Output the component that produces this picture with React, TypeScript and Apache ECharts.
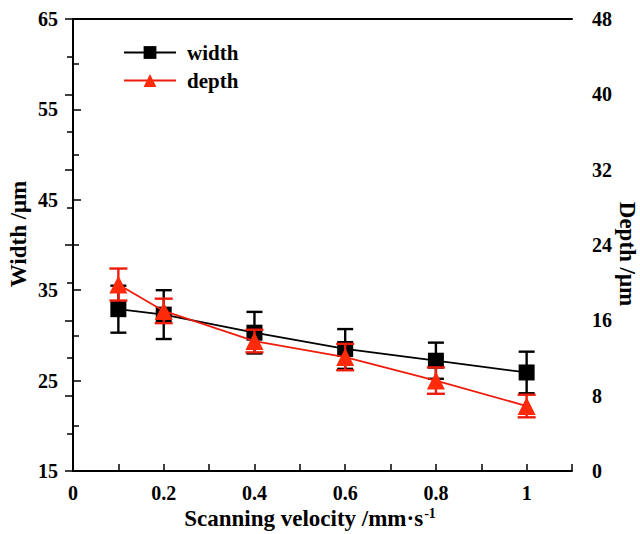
import React, { useEffect, useRef } from "react";
import * as echarts from "echarts";

const velocity = [0.1, 0.2, 0.4, 0.6, 0.8, 1.0];
const widthMean = [32.9, 32.3, 30.3, 28.5, 27.2, 25.9];
const widthErr = [2.6, 2.7, 2.3, 2.2, 2.0, 2.3];
const depthMean = [19.8, 17.0, 13.8, 12.1, 9.6, 6.9];
const depthErr = [1.7, 1.3, 1.2, 1.4, 1.4, 1.2];
const xTickLabels: Record<string, string> = { "0": "0", "0.2": "0.2", "0.4": "0.4", "0.6": "0.6", "0.8": "0.8", "1": "1" };

const FONT = "'Liberation Serif', 'Times New Roman', serif";
const RED = "#ee1c0c";
const RED_FILL = "#ff2a0a";

function errData(mean: number[], err: number[]) {
  return velocity.map((x, i) => [x, mean[i] - err[i], mean[i] + err[i]]);
}

function errRender(color: string, w: number) {
  return (params: any, api: any) => {
    const x = api.value(0);
    const lo = api.coord([x, api.value(1)]);
    const hi = api.coord([x, api.value(2)]);
    const style = { stroke: color, lineWidth: 2.4 };
    return {
      type: "group",
      children: [
        { type: "line", shape: { x1: lo[0], y1: lo[1], x2: hi[0], y2: hi[1] }, style },
        { type: "line", shape: { x1: lo[0] - w, y1: lo[1], x2: lo[0] + w, y2: lo[1] }, style },
        { type: "line", shape: { x1: hi[0] - w, y1: hi[1], x2: hi[0] + w, y2: hi[1] }, style },
      ],
    };
  };
}

export default function App() {
  const ref = useRef<HTMLDivElement>(null);
  useEffect(() => {
    const chart = echarts.init(ref.current!, null, { renderer: "svg" });
    const labelStyle = { fontFamily: FONT, fontWeight: "bold" as const, fontSize: 20, color: "#000" };
    const axisLine = { show: true, lineStyle: { color: "#000", width: 2 } };
    chart.setOption({
      animation: false,
      backgroundColor: "#fff",
      textStyle: { fontFamily: FONT },
      grid: { left: 73, right: 68, top: 19, bottom: 63, containLabel: false },
      legend: {
        orient: "vertical",
        left: 118,
        top: 37,
        itemWidth: 52,
        itemHeight: 16,
        itemGap: 7,
        textStyle: { fontFamily: FONT, fontWeight: "bold", fontSize: 21, color: "#000", padding: [0, 0, 0, 6] },
        data: ["width", "depth"],
      },
      xAxis: [
        {
          type: "value",
          min: 0,
          max: 1.1,
          interval: 0.1,
          axisLine,
          axisTick: { show: true, inside: true, length: 7, lineStyle: { color: "#000", width: 1.5 } },
          splitLine: { show: false },
          axisLabel: {
            ...labelStyle,
            margin: 12,
            formatter: (v: number) => xTickLabels[String(Math.round(v * 10) / 10)] ?? "",
          },
        },
        {
          type: "value",
          position: "top",
          min: 0,
          max: 1.1,
          axisLine,
          axisTick: { show: false },
          axisLabel: { show: false },
          splitLine: { show: false },
        },
      ],
      yAxis: [
        {
          type: "value",
          min: 15,
          max: 65,
          interval: 10,
          position: "left",
          axisLine,
          axisTick: { show: true, inside: true, length: 8, lineStyle: { color: "#000", width: 1.5 } },
          minorTick: { show: true, splitNumber: 2, length: 6, lineStyle: { color: "#000", width: 1.5 } },
          splitLine: { show: false },
          axisLabel: { ...labelStyle, margin: 15 },
        },
        {
          type: "value",
          min: 0,
          max: 48,
          interval: 8,
          position: "right",
          axisLine,
          axisTick: { show: true, inside: true, length: 8, lineStyle: { color: "#000", width: 1.5 } },
          minorTick: { show: true, splitNumber: 2, length: 6, lineStyle: { color: "#000", width: 1.5 } },
          splitLine: { show: false },
          axisLabel: { ...labelStyle, margin: 20 },
        },
      ],
      graphic: [
        {
          type: "text",
          x: 18,
          y: 234,
          rotation: Math.PI / 2,
          style: { text: "Width /μm", fontFamily: FONT, fontWeight: "bold", fontSize: 23, fill: "#000", align: "center", verticalAlign: "middle" },
        },
        {
          type: "text",
          x: 627,
          y: 254,
          rotation: -Math.PI / 2,
          style: { text: "Depth /μm", fontFamily: FONT, fontWeight: "bold", fontSize: 23, fill: "#000", align: "center", verticalAlign: "middle" },
        },
        {
          type: "text",
          x: 310,
          y: 518,
          style: {
            text: "{a|Scanning velocity /mm·s}{b|-1}",
            align: "center",
            verticalAlign: "middle",
            rich: {
              a: { fontFamily: FONT, fontWeight: "bold", fontSize: 23, fill: "#000", color: "#000" },
              b: { fontFamily: FONT, fontWeight: "bold", fontSize: 14, fill: "#000", color: "#000", verticalAlign: "top", padding: [0, 0, 10, 1] },
            },
          },
        },
      ],
      series: [
        {
          name: "width",
          type: "line",
          xAxisIndex: 0,
          yAxisIndex: 0,
          data: velocity.map((x, i) => [x, widthMean[i]]),
          symbol: "rect",
          symbolSize: 16,
          itemStyle: { color: "#000" },
          lineStyle: { color: "#000", width: 1.8 },
          z: 3,
        },
        {
          type: "custom",
          name: "widthErr",
          xAxisIndex: 0,
          yAxisIndex: 0,
          data: errData(widthMean, widthErr),
          encode: { x: 0, y: [1, 2] },
          renderItem: errRender("#000", 8),
          z: 2,
        },
        {
          name: "depth",
          type: "line",
          xAxisIndex: 0,
          yAxisIndex: 1,
          data: velocity.map((x, i) => [x, depthMean[i]]),
          symbol: "triangle",
          symbolSize: 18,
          itemStyle: { color: RED_FILL },
          lineStyle: { color: RED, width: 1.8 },
          z: 5,
        },
        {
          type: "custom",
          name: "depthErr",
          xAxisIndex: 0,
          yAxisIndex: 1,
          data: errData(depthMean, depthErr),
          encode: { x: 0, y: [1, 2] },
          renderItem: errRender(RED, 9),
          z: 4,
        },
      ],
    });
    return () => chart.dispose();
  }, []);
  return <div ref={ref} style={{ width: 640, height: 534, position: "absolute", left: 0, top: 0 }} />;
}
